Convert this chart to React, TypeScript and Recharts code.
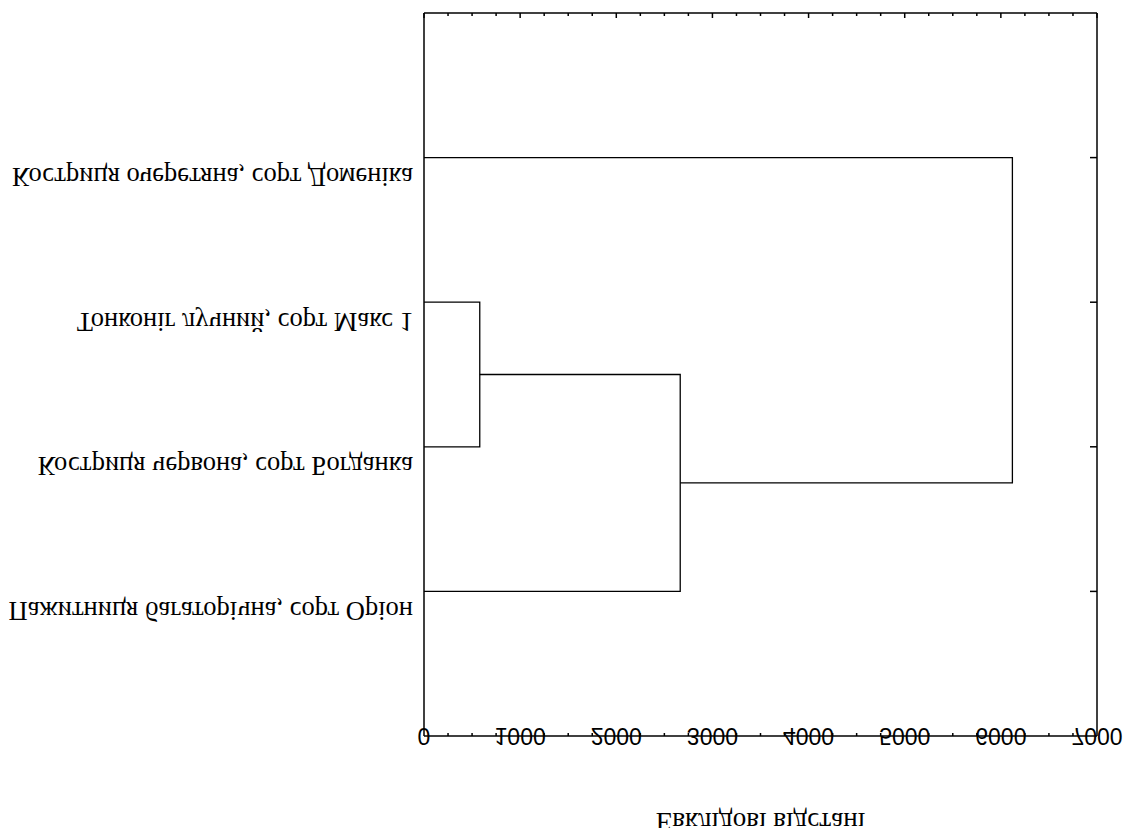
import React from "react";
import { ScatterChart, Scatter, XAxis, YAxis } from "recharts";

const leafLabels = [
  "Костриця очеретяна, сорт Доменіка",
  "Тонконіг лучний, сорт Макс 1",
  "Костриця червона, сорт Богданка",
  "Пажитниця багаторічна, сорт Оріон",
];
const leafPositions = [1, 2, 3, 4];
// nodes 1..4 are the leaves, 5.. are the clusters made by each join
const mergePairs = [
  [2, 3],
  [5, 4],
  [6, 1],
];
const mergeHeights = [580, 2665, 6120];
const distanceTicks = Array.from({ length: 29 }, (_, i) => i * 250);
const axisTitle = "Евклідові відстані";

const nodeY: Record<number, number> = {};
const nodeH: Record<number, number> = {};
leafPositions.forEach((p, i) => {
  nodeY[i + 1] = p;
  nodeH[i + 1] = 0;
});
const links = mergePairs.map(([a, b], k) => {
  const id = leafLabels.length + 1 + k;
  const h = mergeHeights[k];
  nodeY[id] = (nodeY[a] + nodeY[b]) / 2;
  nodeH[id] = h;
  return [
    { x: nodeH[a], y: nodeY[a] },
    { x: h, y: nodeY[a] },
    { x: h, y: nodeY[b] },
    { x: nodeH[b], y: nodeY[b] },
  ];
});

const axisStroke = { stroke: "#000", strokeWidth: 1.5 };
const noLabel = () => <g />;

const LeafTick = (props: any) => {
  const { x, y, payload } = props;
  return (
    <text
      transform={`translate(${x},${y + 10.5}) scale(1,-1)`}
      textAnchor="end"
      fontFamily="'Liberation Serif', serif"
      fontSize={26.5}
      fill="#000"
    >
      {leafLabels[payload.value - 1]}
    </text>
  );
};

// bottom axis: labels every 1000, small inward marks between them
const DistanceTick = (props: any) => {
  const { x, y, payload } = props;
  if (payload.value % 1000 !== 0) {
    return <line x1={x} x2={x} y1={y} y2={y - 3} stroke="#000" strokeWidth={1.5} />;
  }
  return (
    <text
      transform={`translate(${x},${y - 8.3}) scale(1,-1)`}
      textAnchor="middle"
      fontFamily="'Liberation Sans', sans-serif"
      fontSize={23}
      fill="#000"
    >
      {payload.value}
    </text>
  );
};

// top border: inward ticks, longer at every 1000
const TopTick = (props: any) => {
  const { x, y, payload } = props;
  const len = payload.value % 1000 === 0 ? 5 : 3;
  return <line x1={x} x2={x} y1={y} y2={y + len} stroke="#000" strokeWidth={1.5} />;
};

const AxisTitle = (props: any) => {
  const vb = props.viewBox || {};
  return (
    <text
      transform={`translate(${vb.x + vb.width / 2},${vb.y + 77}) scale(1,-1)`}
      textAnchor="middle"
      fontFamily="'Liberation Serif', serif"
      fontSize={27}
      fill="#000"
    >
      {axisTitle}
    </text>
  );
};

export default function App() {
  return (
    <div style={{ position: "absolute", left: 0, top: 0, background: "#fff" }}>
      <ScatterChart
        width={1127}
        height={828}
        margin={{ top: 0, right: 30, bottom: 0, left: 0 }}
      >
        <XAxis
          xAxisId="d"
          type="number"
          dataKey="x"
          domain={[0, 7000]}
          allowDataOverflow
          ticks={distanceTicks}
          interval={0}
          height={92}
          tickSize={0}
          tickMargin={0}
          tickLine={false}
          axisLine={axisStroke}
          tick={<DistanceTick />}
          label={AxisTitle}
        />
        <XAxis
          xAxisId="top"
          orientation="top"
          type="number"
          dataKey="x"
          domain={[0, 7000]}
          allowDataOverflow
          ticks={distanceTicks}
          interval={0}
          height={13}
          tickSize={0}
          tickMargin={0}
          tickLine={false}
          axisLine={axisStroke}
          tick={<TopTick />}
        />
        <YAxis
          yAxisId="l"
          type="number"
          dataKey="y"
          domain={[0, 5]}
          allowDataOverflow
          reversed
          ticks={leafPositions}
          interval={0}
          width={424}
          tickSize={0}
          tickMargin={11}
          tickLine={false}
          axisLine={axisStroke}
          tick={<LeafTick />}
        />
        <YAxis
          yAxisId="r"
          orientation="right"
          mirror
          type="number"
          domain={[0, 5]}
          allowDataOverflow
          reversed
          ticks={leafPositions}
          interval={0}
          width={1}
          tickSize={7}
          tickLine={axisStroke}
          axisLine={axisStroke}
          tick={noLabel}
        />
        {links.map((pts, i) => (
          <Scatter
            key={i}
            xAxisId="d"
            yAxisId="l"
            data={pts}
            line={{ stroke: "#000", strokeWidth: 1.3 }}
            lineType="joint"
            shape={() => <g />}
            isAnimationActive={false}
          />
        ))}
        {/* the top border axis shares the same links, drawn without marks */}
        <Scatter
          xAxisId="top"
          yAxisId="r"
          data={links[0]}
          shape={() => <g />}
          isAnimationActive={false}
        />
      </ScatterChart>
    </div>
  );
}
